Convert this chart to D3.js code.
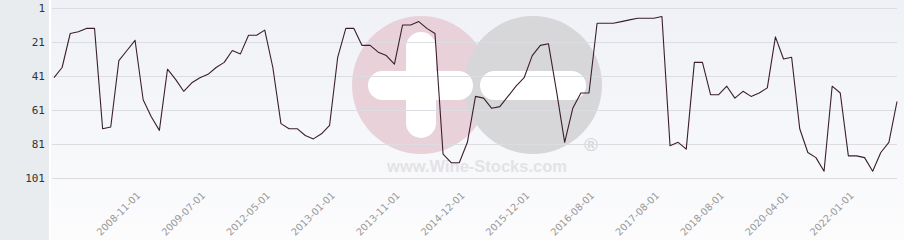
<!DOCTYPE html>
<html>
<head>
<meta charset="utf-8">
<script src="https://cdn.jsdelivr.net/npm/d3@7/dist/d3.min.js"></script>
<style>
  html, body { margin: 0; padding: 0; background: #ffffff; }
  svg { display: block; }
</style>
</head>
<body>
<svg id="chart" width="904" height="240"></svg>
<script>
// Rank values (1 = best), one per period
const ranks = [
  42, 36, 16, 15, 13, 13, 72, 71, 32, 26,
  20, 55, 65, 73, 37, 43, 50, 45, 42, 40,
  36, 33, 26, 28, 17, 17, 14, 36, 69, 72,
  72, 76, 78, 75, 70, 30, 13, 13, 23, 23,
  27, 29, 34, 11, 11, 9, 13, 16, 87, 92,
  92, 80, 53, 54, 60, 59, 53, 47, 42, 29,
  23, 22, 50, 80, 60, 51, 51, 10, 10, 10,
  9, 8, 7, 7, 7, 6, 82, 80, 84, 33,
  33, 52, 52, 47, 54, 50, 53, 51, 48, 18,
  31, 30, 72, 86, 89, 97, 47, 51, 88, 88,
  89, 97, 86, 80, 56
];
// Dates shown on the x axis and the index of the period they label
const tickLabels = ["2008-11-01", "2009-07-01", "2012-05-01", "2013-01-01", "2013-11-01",
  "2014-12-01", "2015-12-01", "2016-08-01", "2017-08-01", "2018-08-01", "2020-04-01", "2022-01-01"];
const tickIndex = [10, 18, 26, 34, 42, 50, 58, 66, 74, 82, 90, 98];
const yTicks = [1, 21, 41, 61, 81, 101];

const svg = d3.select("#chart");
const W = 904, H = 240;

const defs = svg.append("defs");
const grad = defs.append("linearGradient").attr("id", "bg").attr("x1", 0).attr("y1", 0).attr("x2", 0).attr("y2", 1);
grad.append("stop").attr("offset", "0%").attr("stop-color", "#eff1f6");
grad.append("stop").attr("offset", "100%").attr("stop-color", "#fcfcfd");

// left panel
svg.append("rect").attr("x", 0).attr("y", 0).attr("width", 49).attr("height", H).attr("fill", "#e8ecef");
svg.append("rect").attr("x", 49).attr("y", 0).attr("width", 2).attr("height", H).attr("fill", "#ffffff");
svg.append("rect").attr("x", 51).attr("y", 0).attr("width", W - 51).attr("height", H).attr("fill", "url(#bg)");

const x = d3.scalePoint().domain(d3.range(ranks.length)).range([54, 897]);
const y = d3.scaleLinear().domain([1, 101]).range([8, 178]);

// watermark
const wm = svg.append("g");
wm.append("circle").attr("cx", 421).attr("cy", 85).attr("r", 69).attr("fill", "#e9d1da");
wm.append("circle").attr("cx", 533).attr("cy", 85).attr("r", 69).attr("fill", "#d7d7da");
wm.append("rect").attr("x", 368).attr("y", 71).attr("width", 105).attr("height", 29).attr("rx", 14.5).attr("fill", "#ffffff");
wm.append("rect").attr("x", 406).attr("y", 32).attr("width", 30).attr("height", 106).attr("rx", 15).attr("fill", "#ffffff");
wm.append("rect").attr("x", 480).attr("y", 71).attr("width", 106).attr("height", 29).attr("rx", 14.5).attr("fill", "#ffffff");
wm.append("text").attr("x", 477).attr("y", 172).attr("text-anchor", "middle")
  .attr("font-family", "Liberation Sans, Arial, sans-serif").attr("font-weight", "bold")
  .attr("font-size", 16.5).attr("fill", "#e3e3e6").text("www.Wine-Stocks.com");
wm.append("text").attr("x", 591).attr("y", 151).attr("text-anchor", "middle")
  .attr("font-family", "Liberation Sans, Arial, sans-serif").attr("font-weight", "bold")
  .attr("font-size", 19).attr("fill", "#d6d6d9").text("®");

// grid lines
svg.append("g").selectAll("line").data(yTicks).join("line")
  .attr("x1", 52).attr("x2", 897)
  .attr("y1", d => Math.round(y(d)) + 0.5).attr("y2", d => Math.round(y(d)) + 0.5)
  .attr("stroke", "#dcdde2").attr("stroke-width", 1);

// y labels
svg.append("g").selectAll("text").data(yTicks).join("text")
  .attr("x", 45).attr("y", d => y(d) + 4)
  .attr("text-anchor", "end")
  .attr("font-family", "DejaVu Sans Mono, monospace").attr("font-size", 11)
  .attr("fill", "#333333").text(d => d);

// x labels
svg.append("g").selectAll("text").data(tickIndex).join("text")
  .attr("transform", d => `translate(${x(d) + 6},${196}) rotate(-45)`)
  .attr("text-anchor", "end")
  .attr("font-family", "DejaVu Sans, Verdana, sans-serif").attr("font-size", 9.8)
  .attr("fill", "#999999").text((d, i) => tickLabels[i]);

// line
const line = d3.line().x((d, i) => x(i)).y(d => y(d));
svg.append("path").datum(ranks).attr("d", line)
  .attr("fill", "none").attr("stroke", "#3b1e2c").attr("stroke-width", 1.1)
  .attr("stroke-linejoin", "round");
</script>
</body>
</html>
